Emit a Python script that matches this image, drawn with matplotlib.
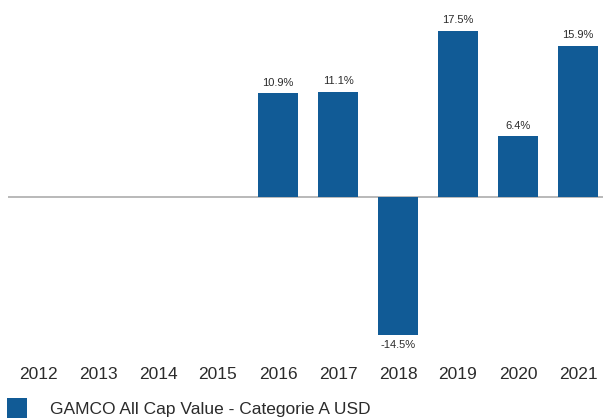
import matplotlib
matplotlib.use("Agg")
import matplotlib.pyplot as plt

years = ['2012', '2013', '2014', '2015', '2016', '2017', '2018', '2019', '2020', '2021']
returns = [None, None, None, None, 10.9, 11.1, -14.5, 17.5, 6.4, 15.9]
series_name = 'GAMCO All Cap Value - Categorie A USD'

big_font = 'Liberation Sans'
bar_color = '#115B96'
text_color = '#2b2b2b'

W, H = 603, 419
fig = plt.figure(figsize=(W / 100, H / 100), dpi=100)
# axes from y=10px to y=345px, x from 8px to right edge
ax = fig.add_axes([8 / W, (H - 345) / H, (W - 8) / W, 335 / H])

xs = [i for i, v in enumerate(returns) if v is not None]
vals = [v for v in returns if v is not None]
ax.bar(xs, vals, width=0.667, color=bar_color, label=series_name, zorder=2)

ax.axhline(0, color='#a6a6a6', linewidth=1.1, zorder=1)

for x, v in zip(xs, vals):
    off = 4 if v >= 0 else -4
    ax.annotate(f'{v:.1f}%', (x, v), xytext=(0, off), textcoords='offset points',
                ha='center', va='bottom' if v >= 0 else 'top', fontsize=8,
                family='Liberation Sans', color=text_color)

ax.set_xlim(-0.5, 9.417)
ax.set_ylim(-15.58, 19.68)
ax.set_xticks(range(len(years)))
ax.set_xticklabels(years, fontsize=12.5, family=big_font, color=text_color)
ax.tick_params(axis='x', length=0, pad=16)
ax.set_yticks([])
for s in ax.spines.values():
    s.set_visible(False)

fig.legend(loc='center left', bbox_to_anchor=(7 / W, 1 - 408 / H), frameon=False,
           prop={'family': big_font, 'size': 12.5}, labelcolor=text_color,
           handlelength=1.15, handleheight=1.45, handletextpad=1.3,
           borderpad=0, borderaxespad=0)

fig.savefig('out.png', dpi=100)
